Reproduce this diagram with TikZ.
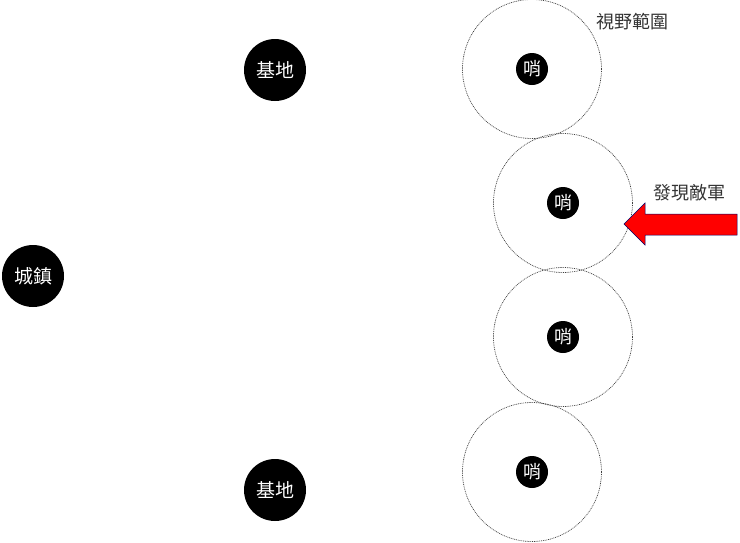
\documentclass[tikz,border=0pt]{standalone}
\usepackage{fontspec}
\newfontfamily\cjk{Noto Sans CJK TC}
\usetikzlibrary{calc}

\begin{document}
\begin{tikzpicture}[x=1pt,y=-1pt,
  spot/.style={circle,fill=black,text=white,inner sep=0,minimum size=62,font=\cjk\fontsize{19}{19}\selectfont},
  guard/.style={circle,fill=black,text=white,inner sep=0,minimum size=32,font=\cjk\fontsize{18}{18}\selectfont},
  sight/.style={circle,draw=black!75,line width=.7pt,dash pattern=on .9pt off .9pt,minimum size=139,inner sep=0},
  tag/.style={font=\cjk\fontsize{18}{18}\selectfont,text=black!80}]
\useasboundingbox (0,0) rectangle (740,542);
\node[spot] (town) at (33,276) {城鎮};
\node[spot] (baseA) at (275,70) {基地};
\node[spot] (baseB) at (275,490) {基地};
\foreach \n/\x/\y in {1/532/69, 2/563/203, 3/563/337, 4/532/472} {
 \node[sight] (range\n) at (\x,\y) {};
 \node[guard] (guard\n) at (\x,\y) {哨};
}
\node[tag] (seen) at (632,22) {視野範圍};
\node[tag] (enemy) at (689,193) {發現敵軍};
\coordinate (tip) at (624,224);
\filldraw[fill=red, draw=blue!40!black, line width=.5pt] (tip) --++(21,-21) --++(0,11) --++(92,0) --++(0,21) --++(-92,0) --++(0,10) -- cycle;
\end{tikzpicture}
\end{document}
